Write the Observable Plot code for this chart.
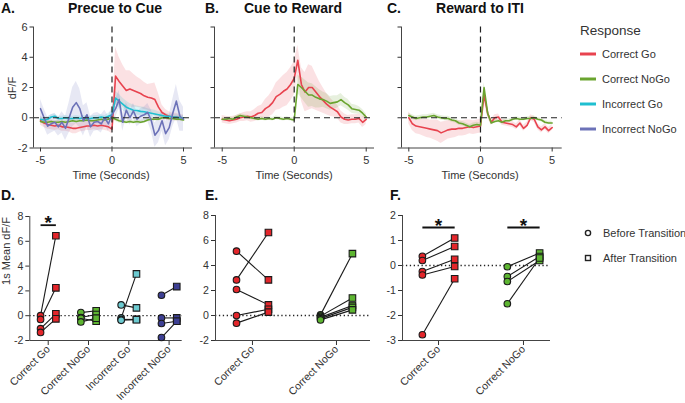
<!DOCTYPE html>
<html><head><meta charset="utf-8">
<script src="https://cdn.jsdelivr.net/npm/d3@7"></script>
<script src="https://cdn.jsdelivr.net/npm/@observablehq/plot@0.6"></script>
<style>
html,body{margin:0;padding:0;background:#fff;}
#root{position:relative;width:685px;height:403px;overflow:hidden;font-family:"Liberation Sans",Arial,sans-serif;}
#root svg{position:absolute;left:0;top:0;}
</style></head><body><div id="root"></div>
<script>
// ---------- data ----------
const responses = ["Correct Go", "Correct NoGo", "Incorrect Go", "Incorrect NoGo"];
const time = [-5,-4.75,-4.5,-4.25,-4,-3.75,-3.5,-3.25,-3,-2.75,-2.5,-2.25,-2,-1.75,-1.5,-1.25,-1,-0.75,-0.5,-0.25,0,0.25,0.5,0.75,1,1.25,1.5,1.75,2,2.25,2.5,2.75,3,3.25,3.5,3.75,4,4.25,4.5,4.75,5];
const timeTicks = [-5, 0, 5];
const dffTicks = [-2, 0, 2, 4, 6];

// A. Precue to Cue
const aCorrectGo = [-0.2,-0.35,-0.45,-0.5,-0.55,-0.5,-0.6,-0.6,-0.65,-0.7,-0.7,-0.65,-0.6,-0.55,-0.55,-0.5,-0.55,-0.5,-0.55,-0.6,-0.75,2.75,2.4,2.1,1.8,1.9,1.8,1.7,1.6,1.45,1.35,1.3,1.2,0.7,0.35,0.2,0.1,0.05,0.05,0.0,0.0];
const aCorrectGoErr = [0.3,0.3,0.3,0.3,0.3,0.3,0.3,0.3,0.3,0.35,0.35,0.3,0.3,0.3,0.3,0.3,0.3,0.3,0.3,0.3,0.3,1.9,1.6,1.4,1.3,1.2,1.1,1.0,0.95,0.9,0.85,0.95,1.1,0.9,0.5,0.35,0.3,0.25,0.25,0.2,0.2];
const aCorrectNoGo = [-0.25,-0.3,-0.3,-0.25,-0.3,-0.3,-0.25,-0.3,-0.25,-0.2,-0.25,-0.2,-0.2,-0.15,-0.2,-0.2,-0.15,-0.1,-0.15,-0.1,0.0,-0.1,-0.2,-0.25,-0.3,-0.25,-0.3,-0.25,-0.3,-0.25,-0.15,-0.1,-0.1,-0.1,0.0,0.0,-0.05,-0.05,-0.1,-0.1,-0.15];
const aCorrectNoGoErr = [0.12,0.12,0.12,0.12,0.12,0.12,0.12,0.12,0.12,0.12,0.12,0.12,0.12,0.12,0.12,0.12,0.12,0.12,0.12,0.12,0.15,0.15,0.15,0.12,0.12,0.12,0.12,0.12,0.12,0.12,0.12,0.12,0.12,0.12,0.12,0.12,0.12,0.12,0.12,0.12,0.12];
const aIncorrectGo = [-0.1,-0.15,-0.1,0.05,0.1,-0.05,-0.05,0.0,-0.05,-0.05,0.0,-0.05,0.0,-0.05,-0.05,0.0,0.0,0.05,0.0,0.1,0.2,1.3,1.1,0.9,0.7,0.6,0.5,0.48,0.42,0.4,0.35,0.3,0.25,0.2,0.15,0.1,0.1,0.05,0.05,0.0,0.0];
const aIncorrectGoErr = [0.15,0.15,0.15,0.15,0.15,0.15,0.15,0.15,0.15,0.15,0.15,0.15,0.15,0.15,0.15,0.15,0.15,0.15,0.15,0.2,0.25,0.45,0.45,0.4,0.4,0.35,0.35,0.3,0.3,0.3,0.25,0.25,0.25,0.2,0.2,0.2,0.15,0.15,0.15,0.15,0.15];
const aIncorrectNoGo = [0.6,0.0,-0.55,-0.4,-0.3,-0.6,-0.3,-0.7,0.0,0.7,1.0,0.6,-0.2,0.2,-0.6,-0.3,-0.25,-0.4,0.0,-0.4,0.2,0.6,1.2,-0.3,0.5,0.0,0.45,-0.1,0.1,0.2,0.35,-0.2,-1.15,-0.85,-0.2,-1.05,-0.65,0.3,1.1,0.1,-0.1];
const aIncorrectNoGoErr = [0.6,0.6,0.6,0.6,0.6,0.6,0.7,0.8,1.0,1.3,1.4,1.3,1.0,0.8,0.7,0.6,0.6,0.6,0.5,0.5,0.5,0.6,0.6,0.6,0.5,0.5,0.5,0.5,0.5,0.5,0.6,0.7,0.8,0.8,0.7,0.8,0.8,0.9,1.1,1.0,0.8];

// B. Cue to Reward
const bCorrectGo = [-0.1,-0.15,-0.2,-0.15,-0.1,0.0,0.05,0.1,0.05,0.15,0.3,0.35,0.6,0.75,1.0,1.4,1.55,1.75,1.9,2.2,2.6,3.8,2.2,1.7,2.0,2.0,1.7,1.4,1.15,0.9,0.7,0.55,0.4,0.05,-0.1,-0.15,-0.1,-0.1,-0.05,-0.3,-0.1];
const bCorrectGoErr = [0.25,0.25,0.25,0.25,0.25,0.25,0.3,0.3,0.35,0.4,0.45,0.5,0.6,0.7,0.8,0.9,1.0,1.05,1.1,1.1,1.1,1.0,1.1,1.3,1.5,1.4,1.2,1.0,0.85,0.7,0.6,0.5,0.45,0.4,0.35,0.3,0.3,0.3,0.3,0.35,0.35];
const bCorrectNoGo = [-0.1,-0.1,-0.05,-0.1,0.05,0.15,0.1,0.05,0.0,-0.05,-0.1,-0.05,-0.1,-0.05,-0.1,0.0,-0.05,-0.1,-0.05,-0.1,-0.15,2.2,2.0,1.75,1.5,1.5,1.35,1.25,1.2,1.1,0.95,1.0,1.05,1.2,1.0,0.85,0.6,0.55,0.5,0.3,0.05];
const bCorrectNoGoErr = [0.12,0.12,0.12,0.12,0.12,0.12,0.12,0.12,0.12,0.12,0.12,0.12,0.12,0.12,0.12,0.12,0.12,0.12,0.12,0.12,0.15,0.6,0.7,0.75,0.8,0.75,0.7,0.6,0.5,0.5,0.45,0.45,0.4,0.4,0.35,0.35,0.3,0.3,0.25,0.25,0.2];

// C. Reward to ITI
const cCorrectGo = [0.0,-0.4,-0.55,-0.6,-0.65,-0.7,-0.75,-0.8,-0.85,-1.0,-0.9,-0.8,-0.75,-0.75,-0.7,-0.7,-0.65,-0.6,-0.65,-0.6,-0.55,1.5,0.3,-0.3,0.0,0.05,-0.3,-0.35,-0.4,-0.45,-0.6,-0.35,-0.7,-0.5,0.0,-0.1,-0.6,-0.8,-0.6,-0.85,-0.65];
const cCorrectGoErr = [0.4,0.45,0.5,0.5,0.55,0.6,0.6,0.65,0.7,0.7,0.65,0.6,0.6,0.55,0.5,0.5,0.5,0.45,0.45,0.45,0.45,0.4,0.3,0.2,0.2,0.2,0.2,0.2,0.2,0.2,0.2,0.2,0.2,0.2,0.2,0.2,0.2,0.2,0.2,0.2,0.2];
const cCorrectNoGo = [0.15,0.05,-0.05,0.0,0.05,0.05,0.1,0.15,0.05,0.0,-0.05,-0.05,-0.15,-0.2,-0.35,-0.4,-0.5,-0.6,-0.5,-0.45,-0.5,2.0,0.3,-0.35,-0.25,-0.2,-0.3,-0.2,-0.2,-0.1,-0.05,-0.1,-0.1,-0.05,-0.05,0.0,-0.1,-0.15,-0.3,-0.35,-0.35];
const cCorrectNoGoErr = [0.15,0.15,0.15,0.15,0.15,0.15,0.15,0.15,0.15,0.15,0.15,0.15,0.15,0.15,0.15,0.15,0.15,0.15,0.15,0.15,0.15,0.35,0.2,0.12,0.12,0.12,0.12,0.12,0.12,0.12,0.12,0.12,0.12,0.12,0.12,0.12,0.12,0.12,0.12,0.12,0.12];

// D. 1s mean dF/F, before / after transition (one entry per subject)
const dCats = ["Correct Go", "Correct NoGo", "Incorrect Go", "Incorrect NoGo"];
const dBefore = [[0.0,-0.3,-1.05,-1.35],[0.25,-0.15,-0.2,-0.5],[0.87,-0.18,-0.3,-0.37],[1.65,-0.18,-0.63,-1.76]];
const dAfter  = [[6.45,2.25,0.15,-0.25],[0.4,0.1,-0.45,-0.2],[0.63,3.37,-0.3,-0.32],[2.35,-0.18,-0.45,-0.45]];
const dSig = [{cat: 0, level: 7.3}];
// E.
const eCats = ["Correct Go", "Correct NoGo"];
const eBefore = [[5.15,2.85,2.08,0.0,-0.61],[0.05,-0.05,-0.15,-0.25,-0.35]];
const eAfter  = [[2.85,6.64,0.85,0.5,0.27],[4.95,1.4,0.8,0.65,0.45]];
const eSig = [];
// F.
const fCats = ["Correct Go", "Correct NoGo"];
const fBefore = [[0.37,0.2,-0.24,-0.38,-2.77],[-0.05,-0.44,-0.64,-1.53]];
const fAfter  = [[1.1,0.76,0.25,-0.04,-0.53],[0.5,0.36,0.2,0.3]];
const fSig = [{cat: 0, level: 1.52}, {cat: 1, level: 1.52}];

// ---------- styles ----------
const W = 685, H = 403;
const lineColors = ["#e8434f", "#6aa42f", "#1fbfd0", "#6c72b8"];
const markerColors = ["#e3262b", "#5db531", "#6ccad0", "#3d3f93"];
const axisColor = "#444";
const textColor = "#333";
const FONT = "'Liberation Sans', Arial, Helvetica, sans-serif";
const baseStyle = {background: "transparent", overflow: "visible", fontFamily: FONT, fontSize: "11px", color: textColor};
const catStyle = {...baseStyle, fontSize: "10.6px"};
const OFF = 0.19;
const root = document.getElementById("root");

function timePanel(cfg) {
  const rows = [];
  cfg.series.forEach(s => time.forEach((t, i) => rows.push({key: s.key, t, v: s.v[i], lo: s.v[i] - s.e[i], hi: s.v[i] + s.e[i]})));
  return Plot.plot({
    width: W, height: H,
    marginLeft: cfg.left, marginRight: W - cfg.right, marginTop: 26.5, marginBottom: H - 147.5,
    style: baseStyle,
    x: {domain: cfg.xDomain, ticks: timeTicks, tickSize: 4, tickPadding: 4, tickFormat: d => String(d), label: null},
    y: {domain: [-2, 6], ticks: dffTicks, tickSize: 3.5, tickPadding: 2.5, tickFormat: cfg.yLabels ? (d => String(d)) : (() => ""), label: null},
    color: {domain: responses, range: lineColors},
    marks: [
      Plot.areaY(rows, {x: "t", y1: "lo", y2: "hi", fill: "key", z: "key", fillOpacity: 0.16, clip: true}),
      Plot.lineY(rows, {x: "t", y: "v", stroke: "key", z: "key", strokeWidth: 1.6, clip: true}),
      Plot.ruleX([0], {stroke: "#222", strokeWidth: 1.2, strokeDasharray: "6,4"}),
      Plot.ruleY([0], {stroke: "#222", strokeWidth: 1.2, strokeDasharray: "6,4"}),
      Plot.ruleX([cfg.xDomain[0]], {stroke: axisColor, strokeWidth: 1}),
      Plot.ruleY([-2], {stroke: axisColor, strokeWidth: 1})
    ]
  });
}

function catPanel(cfg) {
  const pts = [];
  cfg.cats.forEach((c, ci) => cfg.before[ci].forEach((b, j) => pts.push({cat: c, ci, before: b, after: cfg.after[ci][j]})));
  return Plot.plot({
    width: W, height: H,
    marginLeft: cfg.left, marginRight: W - cfg.right, marginTop: cfg.top, marginBottom: H - cfg.bottom,
    style: catStyle,
    x: {domain: cfg.xDomain, ticks: cfg.cats.map((c, i) => i), tickFormat: i => cfg.cats[i], tickRotate: -45, tickSize: 5, tickPadding: 2, label: null},
    y: {domain: cfg.yDomain, ticks: cfg.yTicks, tickSize: 4, tickPadding: 2.5, tickFormat: d => String(d), label: null},
    color: {domain: dCats, range: markerColors},
    marks: [
      Plot.ruleY([0], {stroke: "#222", strokeWidth: 1.3, strokeDasharray: "1.3,2.6"}),
      Plot.ruleX([cfg.xDomain[0]], {stroke: axisColor, strokeWidth: 1}),
      Plot.ruleY([cfg.yDomain[0]], {stroke: axisColor, strokeWidth: 1}),
      Plot.link(pts, {x1: d => d.ci - OFF, x2: d => d.ci + OFF, y1: "before", y2: "after", stroke: "#1a1a1a", strokeWidth: 1.1}),
      Plot.dot(pts, {x: d => d.ci - OFF, y: "before", fill: "cat", stroke: "#1a1a1a", strokeWidth: 1.1, r: 3.3}),
      Plot.dot(pts, {x: d => d.ci + OFF, y: "after", fill: "cat", stroke: "#1a1a1a", strokeWidth: 1.1, r: 3.7, symbol: "square"}),
      Plot.link(cfg.sig, {x1: d => d.cat - OFF, x2: d => d.cat + OFF, y1: "level", y2: "level", stroke: "#111", strokeWidth: 1.8}),
      Plot.text(cfg.sig, {x: "cat", y: "level", text: () => "*", fontSize: 19, fontWeight: "bold", fill: "#111", lineAnchor: "middle", dy: -2})
    ]
  });
}

root.appendChild(timePanel({left: 33, right: 192, xDomain: [-5.49, 5.63], yLabels: true, series: [
  {key: "Correct Go", v: aCorrectGo, e: aCorrectGoErr},
  {key: "Correct NoGo", v: aCorrectNoGo, e: aCorrectNoGoErr},
  {key: "Incorrect Go", v: aIncorrectGo, e: aIncorrectGoErr},
  {key: "Incorrect NoGo", v: aIncorrectNoGo, e: aIncorrectNoGoErr}]}));
root.appendChild(timePanel({left: 214, right: 374, xDomain: [-5.535, 5.576], yLabels: false, series: [
  {key: "Correct Go", v: bCorrectGo, e: bCorrectGoErr},
  {key: "Correct NoGo", v: bCorrectNoGo, e: bCorrectNoGoErr}]}));
root.appendChild(timePanel({left: 401, right: 561.7, xDomain: [-5.51, 5.70], yLabels: false, series: [
  {key: "Correct Go", v: cCorrectGo, e: cCorrectGoErr},
  {key: "Correct NoGo", v: cCorrectNoGo, e: cCorrectNoGoErr}]}));

root.appendChild(catPanel({cats: dCats, before: dBefore, after: dAfter, sig: dSig,
  left: 29.3, right: 181.7, top: 216, bottom: 340, xDomain: [-0.457, 3.325], yDomain: [-2, 8], yTicks: [-2,0,2,4,6,8]}));
root.appendChild(catPanel({cats: eCats, before: eBefore, after: eAfter, sig: eSig,
  left: 215, right: 370, top: 215, bottom: 340, xDomain: [-0.44, 1.405], yDomain: [-2, 8], yTicks: [-2,0,2,4,6,8]}));
root.appendChild(catPanel({cats: fCats, before: fBefore, after: fAfter, sig: fSig,
  left: 402, right: 550, top: 215, bottom: 340, xDomain: [-0.424, 1.318], yDomain: [-3, 2], yTicks: [-3,-2,-1,0,1,2]}));

// ---------- titles, labels, legends ----------
const ov = d3.select(root).append("svg").attr("width", W).attr("height", H)
  .style("font-family", FONT).style("overflow", "visible");
function txt(s, x, y, o = {}) {
  const t = ov.append("text").attr("x", x).attr("y", y).text(s)
    .attr("font-size", o.size || 11).attr("fill", o.fill || textColor)
    .attr("font-weight", o.bold ? "bold" : null).attr("text-anchor", o.anchor || "start");
  if (o.rotate) t.attr("transform", `rotate(${o.rotate},${x},${y})`);
  return t;
}
const titles = [["A.", 1, "Precue to Cue", 115], ["B.", 205, "Cue to Reward", 293], ["C.", 387, "Reward to ITI", 480]];
titles.forEach(([l, lx, t, tx]) => { txt(l, lx, 12.5, {size: 14, bold: true, fill: "#111"}); txt(t, tx, 12.5, {size: 14, bold: true, fill: "#111", anchor: "middle"}); });
[111, 294, 480].forEach(x => txt("Time (Seconds)", x, 179, {anchor: "middle"}));
txt("dF/F", 16, 88, {anchor: "middle", rotate: -90});
[["D.", 1], ["E.", 205], ["F.", 390]].forEach(([l, x]) => txt(l, x, 200, {size: 14, bold: true, fill: "#111"}));
txt("1s Mean dF/F", 10, 251, {anchor: "middle", rotate: -90});

txt("Response", 580, 34.5, {size: 13.5});
responses.forEach((r, i) => {
  const y = 54 + i * 25;
  ov.append("line").attr("x1", 580).attr("x2", 596).attr("y1", y).attr("y2", y).attr("stroke", lineColors[i]).attr("stroke-width", 3);
  txt(r, 602, y + 4);
});
ov.append("circle").attr("cx", 588).attr("cy", 233).attr("r", 2.6).attr("fill", "#fff").attr("stroke", "#222").attr("stroke-width", 1.4);
txt("Before Transition", 603, 237);
ov.append("rect").attr("x", 585.5).attr("y", 255.5).attr("width", 5).attr("height", 5).attr("fill", "#fff").attr("stroke", "#222").attr("stroke-width", 1.4);
txt("After Transition", 603, 262);
</script></body></html>
